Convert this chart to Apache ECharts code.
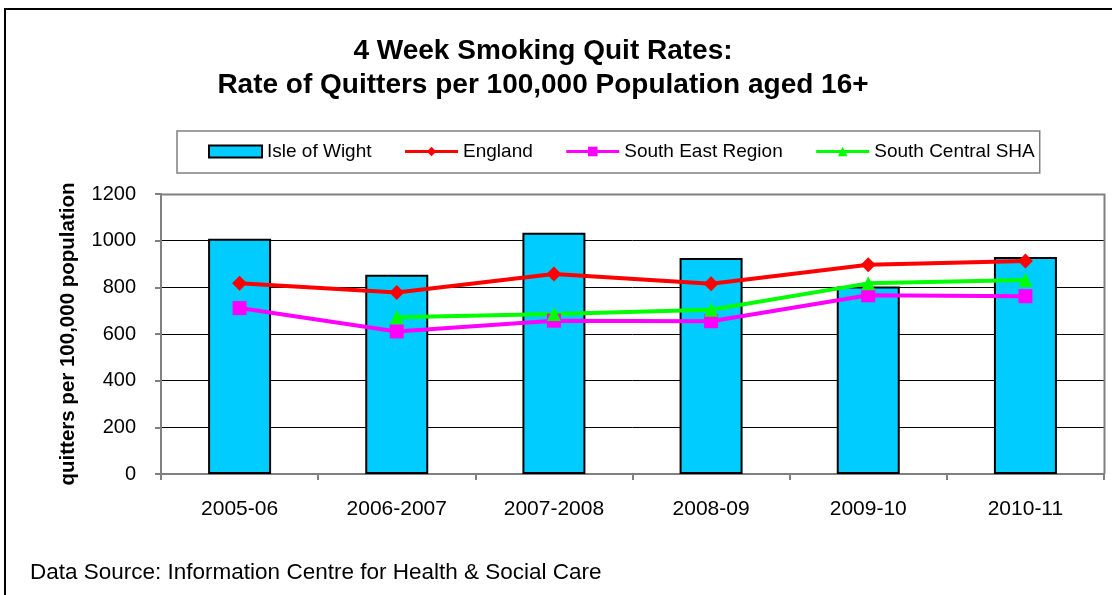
<!DOCTYPE html>
<html>
<head>
<meta charset="utf-8">
<title>4 Week Smoking Quit Rates</title>
<script src="https://cdn.jsdelivr.net/npm/echarts@6/dist/echarts.min.js"></script>
<style>
  html, body { margin: 0; padding: 0; background: #fff; }
  #chart { width: 1112px; height: 595px; }
</style>
</head>
<body>
<div id="chart"></div>
<script>
// years on the x axis
var years = ['2005-06', '2006-2007', '2007-2008', '2008-09', '2009-10', '2010-11'];
// rates per 100,000 population aged 16+
var isleOfWight = [1008, 854, 1034, 926, 804, 930];
var england = [817, 778, 857, 815, 897, 913];
var southEast = [711, 611, 657, 655, 766, 762];
var southCentral = [null, 672, 686, 704, 817, 831];
var yTicks = [0, 200, 400, 600, 800, 1000, 1200];

var font = '"Liberation Sans", Arial, sans-serif';
var chart = echarts.init(document.getElementById('chart'));

var option = {
  backgroundColor: '#fff',
  animation: false,
  textStyle: { fontFamily: font, color: '#000' },
  graphic: [
    { // outer frame
      type: 'rect',
      shape: { x: 5, y: 9, width: 1120, height: 600 },
      style: { fill: 'none', stroke: '#000', lineWidth: 2 }
    },
    {
      type: 'text',
      x: 543, y: 51,
      style: {
        text: '4 Week Smoking Quit Rates:',
        font: 'bold 28px ' + font,
        fill: '#000', textAlign: 'center', textVerticalAlign: 'middle'
      }
    },
    {
      type: 'text',
      x: 543, y: 85,
      style: {
        text: 'Rate of Quitters per 100,000 Population aged 16+',
        font: 'bold 28px ' + font,
        fill: '#000', textAlign: 'center', textVerticalAlign: 'middle'
      }
    },
    {
      type: 'text',
      x: 30, y: 573,
      style: {
        text: 'Data Source: Information Centre for Health & Social Care',
        font: '22.5px ' + font,
        fill: '#000', textAlign: 'left', textVerticalAlign: 'middle'
      }
    },
    { // plot area frame (top / right)
      type: 'polyline',
      shape: { points: [[161, 194.5], [1104.5, 194.5], [1104.5, 474]] },
      style: { stroke: '#808080', lineWidth: 2, fill: 'none' },
      z: 1
    }
  ],
  legend: {
    left: 177,
    top: 131,
    padding: [11, 5, 12, 31],
    borderColor: '#808080',
    borderWidth: 1.5,
    itemWidth: 53,
    itemHeight: 12,
    itemGap: 32,
    textStyle: { fontSize: 19, fontFamily: font, color: '#000' },
    data: [
      { name: 'Isle of Wight', icon: 'rect' },
      { name: 'England', lineStyle: { width: 3 } },
      { name: 'South East Region', lineStyle: { width: 3 } },
      { name: 'South Central SHA', lineStyle: { width: 3 } }
    ]
  },
  grid: {
    left: 161,
    right: 8,
    top: 194,
    bottom: 121,
    containLabel: false
  },
  xAxis: {
    type: 'category',
    data: years,
    boundaryGap: true,
    axisLine: { show: true, lineStyle: { color: '#808080', width: 2 } },
    axisTick: { show: true, length: 6, alignWithLabel: false, lineStyle: { color: '#808080', width: 2 } },
    axisLabel: { fontSize: 21, color: '#000', margin: 25, fontFamily: font }
  },
  yAxis: {
    type: 'value',
    min: 0,
    max: 1200,
    interval: 200,
    name: 'quitters per 100,000 population',
    nameLocation: 'middle',
    nameRotate: 90,
    nameGap: 82,
    nameTextStyle: { fontSize: 20.5, fontWeight: 'bold', color: '#000', fontFamily: font },
    axisLine: { show: true, lineStyle: { color: '#808080', width: 2 } },
    axisTick: { show: true, length: 6, lineStyle: { color: '#808080', width: 2 } },
    axisLabel: {
      fontSize: 20, color: '#000', margin: 25, fontFamily: font,
      formatter: function (v) { return yTicks.indexOf(v) >= 0 ? String(v) : ''; }
    },
    splitLine: { show: true, lineStyle: { color: '#000', width: 1 } }
  },
  series: [
    {
      name: 'Isle of Wight',
      type: 'bar',
      data: isleOfWight,
      barWidth: 63,
      itemStyle: { color: '#00CCFF', borderColor: '#000', borderWidth: 2 },
      z: 2
    },
    {
      name: 'England',
      type: 'line',
      data: england,
      symbol: 'diamond',
      symbolSize: 15,
      lineStyle: { color: '#FF0000', width: 4 },
      itemStyle: { color: '#FF0000' },
      z: 4
    },
    {
      name: 'South East Region',
      type: 'line',
      data: southEast,
      symbol: 'rect',
      symbolSize: 14,
      lineStyle: { color: '#FF00FF', width: 4 },
      itemStyle: { color: '#FF00FF' },
      z: 3
    },
    {
      name: 'South Central SHA',
      type: 'line',
      data: southCentral,
      symbol: 'triangle',
      symbolSize: 14,
      lineStyle: { color: '#00FF00', width: 4 },
      itemStyle: { color: '#00FF00' },
      z: 3
    }
  ]
};

chart.setOption(option);
</script>
</body>
</html>
